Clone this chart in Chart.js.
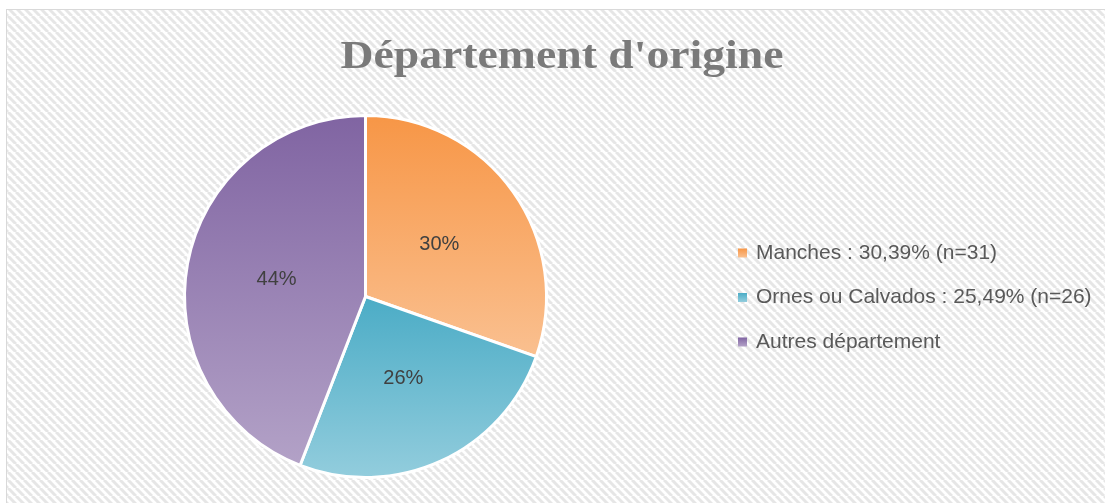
<!DOCTYPE html>
<html>
<head>
<meta charset="utf-8">
<script src="https://cdn.jsdelivr.net/npm/chart.js@4.4.1/dist/chart.umd.min.js"></script>
<style>
    html, body { margin: 0; padding: 0; background: #fff; }
    #wrap { width: 1105px; height: 503px; }
</style>
</head>
<body>
<div id="wrap"><canvas id="pie-chart" width="1105" height="503"></canvas></div>
<script>
const chartTitle = "Département d'origine";
const categories = ["Manches : 30,39% (n=31)", "Ornes ou Calvados : 25,49% (n=26)", "Autres département"];
const values = [30.39, 25.49, 44.12];
const sliceLabels = ["30%", "26%", "44%"];
const topColors = ["#F79646", "#4BACC6", "#8064A2"];
const bottomColors = ["#FAC090", "#93CDDD", "#B3A2C7"];

// vertical gradient over the bounding box of each slice (like the Excel fill)
function sliceGradient(context) {
    const chart = context.chart;
    const area = chart.chartArea;
    const i = context.dataIndex;
    if (!area || i === undefined) return topColors[i] || '#999';
    const cx = (area.left + area.right) / 2;
    const cy = (area.top + area.bottom) / 2;
    const r = Math.min(area.right - area.left, area.bottom - area.top) / 2;
    const total = values.reduce((a, b) => a + b, 0);
    let start = -Math.PI / 2;
    for (let k = 0; k < i; k++) start += values[k] / total * 2 * Math.PI;
    const end = start + values[i] / total * 2 * Math.PI;
    const ys = [cy, cy + r * Math.sin(start), cy + r * Math.sin(end)];
    [-Math.PI / 2, Math.PI / 2, 3 * Math.PI / 2].forEach(a => {
        if (a >= start && a <= end) ys.push(cy + r * Math.sin(a));
    });
    const g = chart.ctx.createLinearGradient(0, Math.min(...ys), 0, Math.max(...ys));
    g.addColorStop(0, topColors[i]);
    g.addColorStop(1, bottomColors[i]);
    return g;
}

const backgroundPlugin = {
    id: 'hatchBackground',
    beforeDraw(chart) {
        const ctx = chart.ctx;
        const tile = document.createElement('canvas');
        tile.width = 8;
        tile.height = 8;
        const t = tile.getContext('2d');
        t.fillStyle = '#ffffff';
        t.fillRect(0, 0, 8, 8);
        t.strokeStyle = '#e6e6e6';
        t.lineWidth = 3;
        [-8, 0, 8].forEach(o => {
            t.beginPath();
            t.moveTo(o, 0);
            t.lineTo(o + 8, 8);
            t.stroke();
        });
        ctx.save();
        ctx.fillStyle = '#ffffff';
        ctx.fillRect(0, 0, chart.width, chart.height);
        ctx.fillStyle = ctx.createPattern(tile, 'repeat');
        ctx.fillRect(7, 10, chart.width, chart.height - 10);
        ctx.strokeStyle = '#d9d9d9';
        ctx.lineWidth = 1;
        ctx.strokeRect(6.5, 9.5, chart.width + 10, chart.height);
        ctx.restore();
    }
};

const textPlugin = {
    id: 'excelText',
    afterDraw(chart) {
        const ctx = chart.ctx;
        ctx.save();
        // title, stretched to the width of the original Cambria title
        ctx.fillStyle = '#7a7a7a';
        ctx.font = 'bold 40px "Liberation Serif"';
        ctx.textAlign = 'center';
        ctx.textBaseline = 'alphabetic';
        const sx = 443 / ctx.measureText(chartTitle).width;
        ctx.save();
        ctx.translate(562, 68);
        ctx.scale(sx, 1);
        ctx.fillText(chartTitle, 0, 0);
        ctx.restore();

        // slice labels
        const meta = chart.getDatasetMeta(0);
        ctx.fillStyle = '#404040';
        ctx.font = '20px "Liberation Sans"';
        ctx.textBaseline = 'middle';
        meta.data.forEach((arc, i) => {
            const p = arc.tooltipPosition();
            ctx.fillText(sliceLabels[i], p.x, p.y);
        });

        // legend
        const rows = [253, 297.5, 342];
        ctx.textAlign = 'left';
        ctx.font = '21px "Liberation Sans"';
        categories.forEach((label, i) => {
            const y = rows[i];
            const g = ctx.createLinearGradient(0, y - 4.5, 0, y + 4.5);
            g.addColorStop(0, topColors[i]);
            g.addColorStop(1, bottomColors[i]);
            ctx.fillStyle = g;
            ctx.fillRect(738, y - 4.5, 9, 9);
            ctx.fillStyle = '#595959';
            ctx.fillText(label, 756, y);
        });
        ctx.restore();
    }
};

const ctx = document.getElementById('pie-chart').getContext('2d');
const chart = new Chart(ctx, {
    type: 'pie',
    data: {
        labels: categories,
        datasets: [{
            data: values,
            backgroundColor: sliceGradient,
            borderColor: '#ffffff',
            borderWidth: 3
        }]
    },
    options: {
        responsive: false,
        animation: false,
        layout: {
            padding: { left: 183, right: 557, top: 114, bottom: 24 }
        },
        plugins: {
            legend: { display: false },
            title: { display: false },
            tooltip: { enabled: false }
        }
    },
    plugins: [backgroundPlugin, textPlugin]
});
</script>
</body>
</html>
